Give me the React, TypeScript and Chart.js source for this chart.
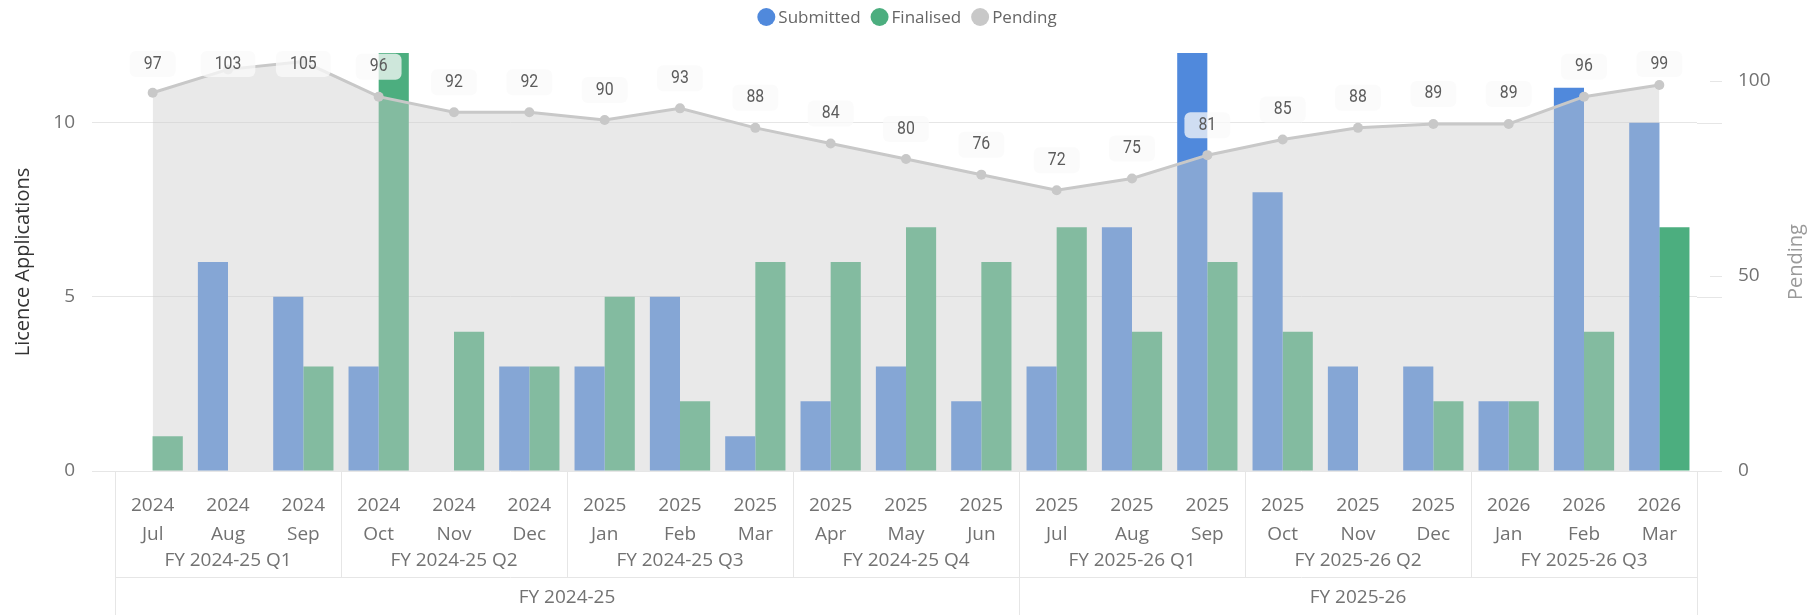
import React, { useEffect, useRef } from "react";
import { Chart, registerables } from "chart.js";

Chart.register(...registerables);

const years = ["2024","2024","2024","2024","2024","2024","2025","2025","2025","2025","2025","2025","2025","2025","2025","2025","2025","2025","2026","2026","2026"];
const months = ["Jul","Aug","Sep","Oct","Nov","Dec","Jan","Feb","Mar","Apr","May","Jun","Jul","Aug","Sep","Oct","Nov","Dec","Jan","Feb","Mar"];
const quarterLabels = ["FY 2024-25 Q1","FY 2024-25 Q2","FY 2024-25 Q3","FY 2024-25 Q4","FY 2025-26 Q1","FY 2025-26 Q2","FY 2025-26 Q3"];
const quarterSizes = [3, 3, 3, 3, 3, 3, 3];
const fyLabels = ["FY 2024-25", "FY 2025-26"];
const fySizes = [12, 9];

const submitted = [0, 6, 5, 3, 0, 3, 3, 5, 1, 2, 3, 2, 3, 7, 13, 8, 3, 3, 2, 11, 10];
const finalised = [1, 0, 3, 14, 4, 3, 5, 2, 6, 6, 7, 6, 7, 4, 6, 4, 0, 2, 2, 4, 7];
const pending = [97, 103, 105, 96, 92, 92, 90, 93, 88, 84, 80, 76, 72, 75, 81, 85, 88, 89, 89, 96, 99];

const leftTicks = { min: 0, max: 12, step: 5 };
const rightTicks = { min: 0, max: 107.2, step: 50 };

const FONT = "'Segoe UI', 'Open Sans', 'Noto Sans', sans-serif";
const LABEL_FONT = "Roboto, 'DejaVu Sans', sans-serif";

const BLUE = "rgb(80,137,220)";
const GREEN = "rgb(76,174,127)";
const GREY = "rgb(200,200,200)";
const AXIS_TEXT = "#727272";
const LINE_GREY = "#e6e6e6";

const legendItems = [
  { text: "Submitted", color: BLUE },
  { text: "Finalised", color: GREEN },
  { text: "Pending", color: GREY },
];

const decorPlugin = {
  id: "decor",
  afterDatasetsDraw(chart: any) {
    const { ctx, chartArea: ca } = chart;
    const meta = chart.getDatasetMeta(2);
    ctx.save();
    ctx.font = `18px ${LABEL_FONT}`;
    ctx.textAlign = "center";
    ctx.textBaseline = "middle";
    const sx = 0.88;
    meta.data.forEach((pt: any, i: number) => {
      const text = String(pending[i]);
      const cy = Math.max(pt.y - 31, ca.top + 10);
      const tw = ctx.measureText(text).width * sx;
      const w = tw + 28;
      const h = 26;
      ctx.fillStyle = "rgba(250,250,250,0.75)";
      ctx.beginPath();
      ctx.roundRect(pt.x - w / 2, cy - h / 2 + 1, w, h, 6);
      ctx.fill();
      ctx.fillStyle = "#5c5c5c";
      ctx.save();
      ctx.translate(pt.x, cy + 1);
      ctx.scale(sx, 1);
      ctx.fillText(text, 0, 0);
      ctx.restore();
    });
    ctx.restore();
  },
  afterDraw(chart: any) {
    const { ctx, chartArea: ca, scales, width, height } = chart;
    const x = scales.x;
    const y = scales.y;
    const y1 = scales.y1;
    ctx.save();
    ctx.strokeStyle = LINE_GREY;
    ctx.lineWidth = 1;
    const line = (x0: number, y0: number, x1: number, y2: number) => {
      ctx.beginPath();
      ctx.moveTo(x0, y0);
      ctx.lineTo(x1, y2);
      ctx.stroke();
    };
    y.ticks.forEach((t: any) => {
      const py = Math.round(y.getPixelForValue(t.value)) + 0.5;
      line(ca.right, py, ca.right + 25, py);
    });
    y1.ticks.forEach((t: any) => {
      const py = Math.round(y1.getPixelForValue(t.value)) + 0.5;
      line(ca.right + 13, py, ca.right + 25, py);
    });
    const levelY = ca.bottom + 106;
    const bx = (i: number) => Math.round(x.getPixelForValue(i - 0.5)) + 0.5;
    line(ca.left, levelY + 0.5, ca.right, levelY + 0.5);
    ctx.font = `19px ${FONT}`;
    ctx.fillStyle = AXIS_TEXT;
    ctx.textAlign = "center";
    ctx.textBaseline = "middle";
    let idx = 0;
    quarterLabels.forEach((q, k) => {
      const s = idx;
      const e = idx + quarterSizes[k];
      line(bx(s), ca.bottom, bx(s), levelY);
      ctx.fillText(q, (x.getPixelForValue(s - 0.5) + x.getPixelForValue(e - 0.5)) / 2, ca.bottom + 90);
      idx = e;
    });
    line(bx(idx), ca.bottom, bx(idx), levelY);
    idx = 0;
    fyLabels.forEach((f, k) => {
      const s = idx;
      const e = idx + fySizes[k];
      line(bx(s), ca.bottom, bx(s), height);
      ctx.fillText(f, (x.getPixelForValue(s - 0.5) + x.getPixelForValue(e - 0.5)) / 2, ca.bottom + 127);
      idx = e;
    });
    line(bx(idx), ca.bottom, bx(idx), height);

    // right axis title (reads bottom to top)
    ctx.save();
    ctx.font = `20px ${FONT}`;
    ctx.fillStyle = "#9a9a9a";
    ctx.translate(1796, (ca.top + ca.bottom) / 2);
    ctx.rotate(-Math.PI / 2);
    ctx.fillText("Pending", 0, 0);
    ctx.restore();

    // legend
    ctx.font = `17px ${FONT}`;
    ctx.textAlign = "left";
    const r = 9;
    const gap = 3;
    const itemGap = 10;
    const widths = legendItems.map((it) => 2 * r + gap + ctx.measureText(it.text).width);
    const total = widths.reduce((a, b) => a + b, 0) + itemGap * (legendItems.length - 1);
    let lx = width / 2 - total / 2 + 3;
    const ly = 17;
    legendItems.forEach((it, k) => {
      ctx.fillStyle = it.color;
      ctx.beginPath();
      ctx.arc(lx + r, ly, r, 0, Math.PI * 2);
      ctx.fill();
      ctx.fillStyle = "#666";
      ctx.fillText(it.text, lx + 2 * r + gap, ly + 1);
      lx += widths[k] + itemGap;
    });
    ctx.restore();
  },
};

export default function App() {
  const ref = useRef<HTMLCanvasElement | null>(null);
  useEffect(() => {
    if (!ref.current) return;
    const labels = months.map((m, i) => [years[i], m]);
    const chart = new Chart(ref.current, {
      type: "bar",
      data: {
        labels,
        datasets: [
          {
            type: "bar",
            label: "Submitted",
            data: submitted,
            backgroundColor: BLUE,
            yAxisID: "y",
            order: 1,
            categoryPercentage: 0.8,
            barPercentage: 1.0,
          },
          {
            type: "bar",
            label: "Finalised",
            data: finalised,
            backgroundColor: GREEN,
            yAxisID: "y",
            order: 1,
            categoryPercentage: 0.8,
            barPercentage: 1.0,
          },
          {
            type: "line",
            label: "Pending",
            data: pending,
            yAxisID: "y1",
            order: 0,
            borderColor: GREY,
            borderWidth: 3,
            pointRadius: 5,
            pointBackgroundColor: GREY,
            pointBorderWidth: 0,
            fill: "origin",
            backgroundColor: "rgba(205,205,205,0.43)",
            tension: 0,
          } as any,
        ],
      },
      options: {
        responsive: false,
        animation: false,
        layout: { padding: { top: 53, left: 0, right: 0, bottom: 0 } },
        plugins: {
          legend: { display: false },
          tooltip: { enabled: false },
        },
        scales: {
          x: {
            grid: { display: false, drawTicks: false },
            border: { display: false },
            ticks: {
              font: { family: FONT, size: 19, lineHeight: 1.53 },
              color: AXIS_TEXT,
              padding: 20,
              maxRotation: 0,
              autoSkip: false,
            },
            afterFit: (s: any) => {
              s.height = 144;
            },
          },
          y: {
            position: "left",
            min: leftTicks.min,
            max: leftTicks.max,
            ticks: {
              stepSize: leftTicks.step,
              includeBounds: false,
              font: { family: FONT, size: 19 },
              color: AXIS_TEXT,
              padding: 17,
            },
            grid: { color: LINE_GREY, tickLength: 23, drawTicks: true },
            border: { display: false },
            title: {
              display: true,
              text: "Licence Applications",
              font: { family: FONT, size: 20 },
              color: "#333",
              padding: { top: 11, bottom: 0 },
            },
            afterFit: (s: any) => {
              s.width = 115;
            },
          },
          y1: {
            position: "right",
            min: rightTicks.min,
            max: rightTicks.max,
            ticks: {
              stepSize: rightTicks.step,
              includeBounds: false,
              font: { family: FONT, size: 19 },
              color: AXIS_TEXT,
              padding: 41,
            },
            grid: { display: false, drawOnChartArea: false, drawTicks: false },
            border: { display: false },
            title: { display: false },
            afterFit: (s: any) => {
              s.width = 111;
            },
          },
        },
      } as any,
      plugins: [decorPlugin],
    });
    return () => chart.destroy();
  }, []);
  return (
    <div style={{ position: "absolute", left: 0, top: 0, width: 1808, height: 615, background: "#fff" }}>
      <canvas ref={ref} width={1808} height={615} style={{ display: "block" }} />
    </div>
  );
}
